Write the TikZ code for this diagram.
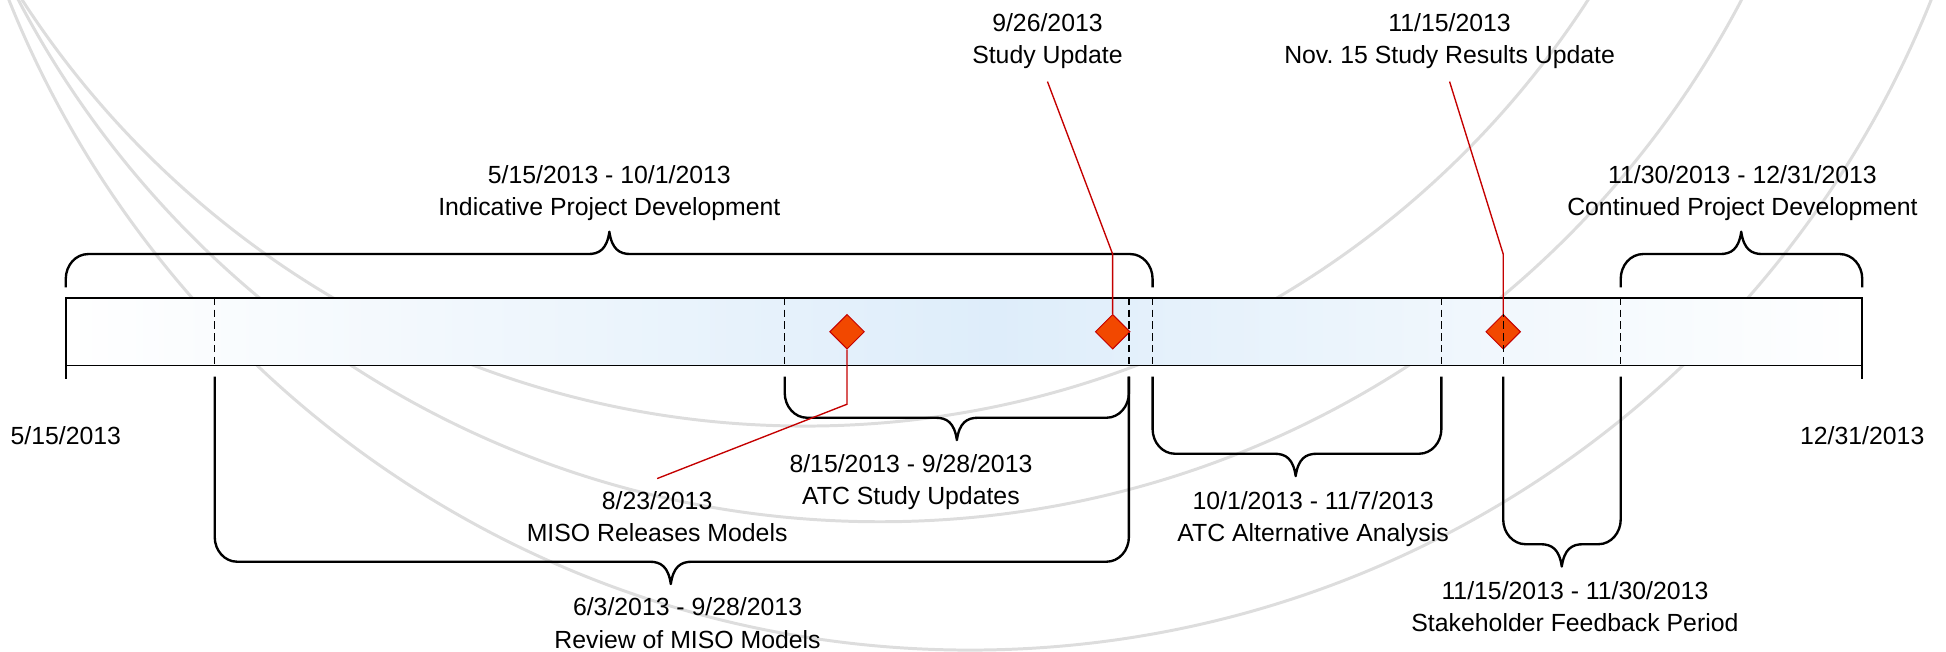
\documentclass[tikz,border=0pt]{standalone}
\usepackage{fontspec}
\setmainfont{Liberation Sans}
\usetikzlibrary{shapes.geometric}

\definecolor{barblue}{RGB}{222,237,250}
\definecolor{markfill}{RGB}{242,72,0}
\definecolor{markred}{RGB}{196,0,0}
\definecolor{swoosh}{RGB}{221,221,221}

\tikzset{
  brace/.style={line width=1.9pt, line join=round},
  divider/.style={line width=1.1pt, dash pattern=on 6pt off 3.5pt},
  milestone/.style={diamond, draw=markred, fill=markfill, line width=0.8pt,
    minimum width=28pt, minimum height=28pt, inner sep=0pt},
  leader/.style={markred, line width=1.1pt},
  lbl/.style={align=center, anchor=north, inner sep=10pt,
    font=\fontsize{20}{26}\selectfont},
}

% #1 left, #2 right, #3 tip, #4 free end y, #5 line y, #6 1 = opens up, -1 = opens down
\newcommand{\spanbrace}[6]{%
  \draw[brace] (#1,#4) -- (#1,{#5-20*(#6)})
    .. controls (#1,{#5-9*(#6)}) and ({#1+8},#5) .. ({#1+18},#5)
    -- ({#3-17},#5)
    .. controls ({#3-8},#5) and ({#3-2},{#5+4*(#6)}) .. (#3,{#5+18*(#6)})
    .. controls ({#3+2},{#5+4*(#6)}) and ({#3+8},#5) .. ({#3+17},#5)
    -- ({#2-18},#5)
    .. controls ({#2-8},#5) and (#2,{#5-9*(#6)}) .. (#2,{#5-20*(#6)})
    -- (#2,#4);}

\begin{document}
\frenchspacing
\begin{tikzpicture}[x=1pt, y=-1pt]
  \useasboundingbox (0,0) rectangle (1568,525);

  % watermark arcs
  \begin{scope}
    \clip (0,0) rectangle (1568,525);
    \draw[swoosh, line width=2.4pt] (648.7,-407.7) circle [radius=751];
    \draw[swoosh, line width=2.4pt] (709,-362.6) circle [radius=783];
    \draw[swoosh, line width=2.4pt] (781.6,-310.2) circle [radius=834];
  \end{scope}

  % the bar
  \shade[left color=white, right color=barblue] (53,240) rectangle (800,294.5);
  \shade[left color=barblue, right color=white] (800,240) rectangle (1500.5,294.5);

  \node[milestone] (m823) at (682.5,267.3) {};
  \node[milestone] (m926) at (896.5,267.3) {};
  \node[milestone] (m1115) at (1211.2,267.3) {};

  \foreach \x in {173,632.3,909.6,928.7,1161.4,1211.2,1305.9}
    \draw[divider] (\x,240) -- (\x,294.5);

  \draw[line width=1.5pt] (53,240) rectangle (1500.5,294.5);
  \draw[line width=1.5pt] (53,294.5) -- (53,305);
  \draw[line width=1.5pt] (1500.5,294.5) -- (1500.5,305);

  % braces
  \spanbrace{53}{928.7}{491}{231.5}{204.7}{-1}
  \spanbrace{1305.9}{1500.5}{1403}{231.5}{204.7}{-1}
  \spanbrace{632.3}{909.6}{771}{303.5}{336.6}{1}
  \spanbrace{173}{909.6}{540.5}{303.5}{452.6}{1}
  \spanbrace{928.7}{1161.4}{1044}{303.5}{365.6}{1}
  \spanbrace{1211.2}{1305.9}{1258.4}{303.5}{438.5}{1}

  % labels
  \node[lbl] (indic) at (491,123) {5/15/2013 - 10/1/2013\\Indicative Project Development};
  \node[lbl] (contd) at (1404,123) {11/30/2013 - 12/31/2013\\Continued Project Development};
  \node[lbl] (study) at (844,0.7) {9/26/2013\\Study Update};
  \node[lbl] (nov) at (1168,0.7) {11/15/2013\\Nov. 15 Study Results Update};
  \node[lbl] (miso) at (529.5,385.6) {8/23/2013\\MISO Releases Models};
  \node[lbl] (atcst) at (734,356) {8/15/2013 - 9/28/2013\\ATC Study Updates};
  \node[lbl] (review) at (554,471.6) {6/3/2013 - 9/28/2013\\Review of MISO Models};
  \node[lbl] (atcalt) at (1058,385.6) {10/1/2013 - 11/7/2013\\ATC Alternative Analysis};
  \node[lbl] (stake) at (1269,458.2) {11/15/2013 - 11/30/2013\\Stakeholder Feedback Period};
  \node[lbl] (start) at (53,333.3) {5/15/2013};
  \node[lbl] (finish) at (1500.5,333.3) {12/31/2013};

  % leaders to milestones
  \coordinate (kmiso) at (682.5,325.7);
  \draw[leader] (m823.south) -- (kmiso) -- (miso.north);
  \coordinate (kstudy) at (896.5,204.7);
  \draw[leader] (study.south) -- (kstudy) -- (m926.north);
  \coordinate (knov) at (1211.2,204.7);
  \draw[leader] (nov.south) -- (knov) -- (m1115.north);
\end{tikzpicture}
\end{document}
